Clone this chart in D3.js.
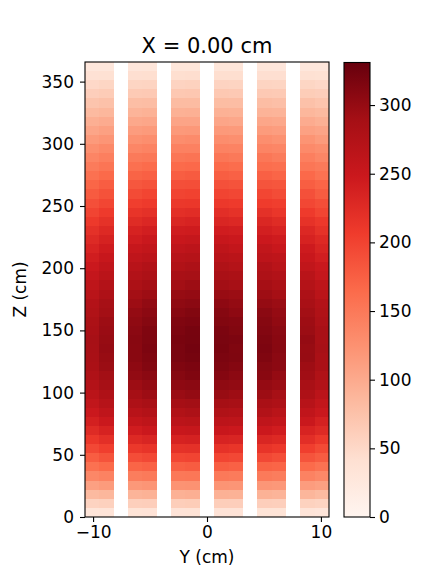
<!DOCTYPE html>
<html><head><meta charset="utf-8">
<script src="https://cdn.jsdelivr.net/npm/d3@7"></script>
<style>
body{margin:0;background:#fff}
svg{display:block}
text{font-family:"DejaVu Sans",sans-serif;fill:#000}
</style>
</head><body>
<svg id="chart" width="431" height="566"></svg>
<script>
// ---- data ----
const title = "X = 0.00 cm";
const xLabel = "Y (cm)";
const yLabel = "Z (cm)";
const yExtent = [-10.71, 10.71];
// lower edges (cm) of the pin cells shown at X = 0, each 1.26 cm wide
const pinLower = [-10.71, -9.45, -6.93, -5.67, -3.15, -1.89, 0.63, 1.89, 4.41, 5.67, 8.19, 9.45];
const pinWidth = 1.26;
// axial bin edges (cm)
const zEdges = [0, 7.32, 14.63, 21.95, 29.26, 36.58, 43.89, 51.21, 58.52, 65.84, 73.15, 80.47, 87.78,
  95.10, 102.41, 109.73, 117.04, 124.36, 131.67, 138.99, 146.30, 153.62, 160.93, 168.25, 175.56,
  182.88, 190.20, 197.51, 204.83, 212.14, 219.46, 226.77, 234.09, 241.40, 248.72, 256.03, 263.35,
  270.66, 277.98, 285.29, 292.61, 299.92, 307.24, 314.55, 321.87, 329.18, 336.50, 343.81, 351.13,
  358.44, 365.76];
// values per axial bin (bottom -> top), one per pin column (left -> right)
const values = [
  [32, 33, 34, 35, 35, 36, 35, 35, 34, 34, 33, 31],
  [56, 58, 60, 61, 62, 63, 62, 61, 61, 60, 57, 55],
  [84, 87, 90, 92, 93, 95, 93, 92, 92, 90, 88, 83],
  [110, 115, 118, 121, 123, 124, 122, 121, 120, 118, 114, 110],
  [135, 141, 146, 149, 151, 152, 150, 148, 149, 146, 141, 134],
  [158, 165, 170, 173, 175, 178, 176, 173, 172, 170, 164, 157],
  [177, 186, 191, 195, 197, 199, 198, 195, 195, 190, 185, 178],
  [195, 204, 211, 215, 218, 219, 217, 214, 215, 210, 204, 194],
  [212, 221, 228, 233, 236, 238, 235, 233, 232, 228, 222, 211],
  [226, 236, 243, 249, 251, 254, 252, 248, 248, 243, 235, 227],
  [239, 249, 257, 262, 266, 268, 265, 263, 261, 257, 250, 238],
  [249, 261, 269, 274, 277, 281, 278, 274, 275, 268, 260, 250],
  [259, 271, 280, 285, 289, 291, 288, 286, 284, 280, 270, 258],
  [267, 279, 288, 295, 297, 301, 298, 294, 295, 287, 280, 266],
  [274, 287, 295, 301, 305, 307, 304, 302, 300, 296, 285, 275],
  [279, 291, 302, 307, 310, 314, 311, 306, 308, 300, 292, 278],
  [283, 296, 305, 312, 314, 317, 315, 311, 310, 306, 294, 284],
  [285, 298, 308, 314, 318, 321, 317, 315, 314, 307, 299, 284],
  [286, 300, 308, 316, 318, 322, 319, 314, 316, 309, 298, 287],
  [287, 299, 309, 315, 319, 321, 318, 316, 315, 308, 300, 285],
  [284, 297, 307, 314, 316, 320, 317, 313, 312, 307, 296, 285],
  [282, 295, 304, 310, 314, 316, 313, 311, 310, 303, 294, 281],
  [278, 290, 301, 306, 309, 313, 310, 305, 307, 300, 291, 278],
  [274, 287, 295, 302, 304, 307, 305, 301, 300, 296, 285, 274],
  [268, 280, 290, 295, 299, 301, 298, 296, 294, 289, 281, 267],
  [262, 274, 282, 289, 291, 295, 291, 287, 289, 282, 273, 263],
  [256, 267, 276, 281, 285, 287, 284, 282, 280, 275, 268, 255],
  [249, 260, 269, 275, 277, 281, 278, 273, 275, 268, 259, 250],
  [242, 253, 261, 266, 270, 272, 269, 267, 265, 262, 252, 241],
  [235, 245, 254, 258, 261, 265, 262, 257, 259, 252, 246, 234],
  [227, 237, 244, 250, 252, 255, 253, 249, 248, 245, 236, 228],
  [219, 228, 236, 241, 244, 245, 243, 241, 240, 235, 229, 218],
  [209, 218, 225, 230, 232, 235, 232, 229, 231, 225, 217, 210],
  [199, 208, 215, 219, 221, 223, 222, 218, 219, 213, 208, 198],
  [189, 197, 204, 208, 211, 212, 210, 208, 207, 204, 196, 190],
  [179, 187, 193, 198, 199, 201, 199, 196, 197, 192, 188, 178],
  [169, 177, 182, 186, 189, 190, 188, 186, 185, 183, 176, 170],
  [158, 165, 171, 174, 176, 179, 176, 173, 174, 170, 166, 157],
  [148, 154, 159, 163, 164, 166, 165, 162, 161, 159, 153, 149],
  [138, 144, 149, 151, 153, 155, 153, 150, 152, 147, 144, 137],
  [127, 133, 137, 140, 142, 142, 141, 140, 139, 137, 132, 128],
  [116, 121, 125, 128, 129, 131, 129, 127, 128, 124, 122, 115],
  [105, 110, 114, 116, 117, 118, 117, 116, 115, 113, 109, 106],
  [95, 99, 102, 104, 106, 106, 105, 103, 104, 102, 99, 94],
  [84, 87, 90, 92, 93, 94, 93, 92, 91, 90, 87, 84],
  [73, 76, 79, 80, 82, 82, 81, 80, 80, 78, 76, 72],
  [61, 64, 66, 67, 68, 69, 68, 67, 67, 66, 63, 61],
  [50, 53, 54, 55, 56, 57, 56, 55, 55, 54, 53, 50],
  [39, 40, 42, 43, 43, 44, 43, 43, 42, 42, 40, 38],
  [27, 28, 29, 30, 30, 30, 30, 30, 30, 29, 28, 27]
];
const xTicks = [-10, 0, 10];
const zTicks = [0, 50, 100, 150, 200, 250, 300, 350];
const cbTicks = [0, 50, 100, 150, 200, 250, 300];
const colorMax = 331;

// ---- layout ----
const plot = {left: 85, right: 329, top: 62, bottom: 517};
const cb = {left: 344, right: 370, top: 62.5, bottom: 517};
const tickFont = 17, labelFont = 17, titleFont = 21;

const svg = d3.select("#chart");
const x = d3.scaleLinear().domain(yExtent).range([plot.left, plot.right]);
const y = d3.scaleLinear().domain([zEdges[0], zEdges[zEdges.length - 1]]).range([plot.bottom, plot.top]);

const stops = d3.schemeReds[9];
const color = d3.scaleLinear()
  .domain(stops.map((_, i) => colorMax * i / (stops.length - 1)))
  .range(stops)
  .interpolate(d3.interpolateRgb)
  .clamp(true);

// cells
const cells = [];
values.forEach((row, zi) => row.forEach((v, pi) => cells.push({zi, pi, v})));
svg.append("g").selectAll("rect").data(cells).join("rect")
  .attr("x", d => x(pinLower[d.pi]))
  .attr("width", d => x(pinLower[d.pi] + pinWidth) - x(pinLower[d.pi]))
  .attr("y", d => y(zEdges[d.zi + 1]))
  .attr("height", d => y(zEdges[d.zi]) - y(zEdges[d.zi + 1]))
  .attr("fill", d => color(d.v))
  .attr("shape-rendering", "crispEdges");

// axes
const xAxis = svg.append("g").attr("transform", `translate(0,${plot.bottom})`)
  .call(d3.axisBottom(x).tickValues(xTicks).tickSize(5).tickPadding(4)
    .tickFormat(d => d < 0 ? "\u2212" + Math.abs(d) : d));
const yAxis = svg.append("g").attr("transform", `translate(${plot.left},0)`)
  .call(d3.axisLeft(y).tickValues(zTicks).tickSize(5).tickPadding(6));
[xAxis, yAxis].forEach(g => {
  g.select(".domain").remove();
  g.selectAll("line").attr("stroke", "#000").attr("stroke-width", 1.1);
  g.selectAll("text").attr("font-size", tickFont).attr("font-family", "DejaVu Sans").attr("fill", "#000");
});

svg.append("rect")
  .attr("x", plot.left).attr("y", plot.top)
  .attr("width", plot.right - plot.left).attr("height", plot.bottom - plot.top)
  .attr("fill", "none").attr("stroke", "#000").attr("stroke-width", 1.1);

// labels
svg.append("text").attr("x", (plot.left + plot.right) / 2).attr("y", 52.5)
  .attr("text-anchor", "middle").attr("font-size", titleFont).text(title);
svg.append("text").attr("x", (plot.left + plot.right) / 2).attr("y", 563)
  .attr("text-anchor", "middle").attr("font-size", labelFont).text(xLabel);
svg.append("text")
  .attr("transform", `translate(26,${(plot.top + plot.bottom) / 2}) rotate(-90)`)
  .attr("text-anchor", "middle").attr("font-size", labelFont).text(yLabel);

// colorbar
const defs = svg.append("defs");
const grad = defs.append("linearGradient").attr("id", "cbgrad")
  .attr("x1", 0).attr("y1", 1).attr("x2", 0).attr("y2", 0);
stops.forEach((c, i) => grad.append("stop")
  .attr("offset", i / (stops.length - 1)).attr("stop-color", c));
const cy = d3.scaleLinear().domain([0, colorMax]).range([cb.bottom, cb.top]);
svg.append("rect").attr("x", cb.left).attr("y", cb.top)
  .attr("width", cb.right - cb.left).attr("height", cb.bottom - cb.top)
  .attr("fill", "url(#cbgrad)").attr("stroke", "#000").attr("stroke-width", 1.1);
const cAxis = svg.append("g").attr("transform", `translate(${cb.right},0)`)
  .call(d3.axisRight(cy).tickValues(cbTicks).tickSize(5).tickPadding(4));
cAxis.select(".domain").remove();
cAxis.selectAll("line").attr("stroke", "#000").attr("stroke-width", 1.1);
cAxis.selectAll("text").attr("font-size", tickFont).attr("font-family", "DejaVu Sans").attr("fill", "#000");
</script>
</body></html>
